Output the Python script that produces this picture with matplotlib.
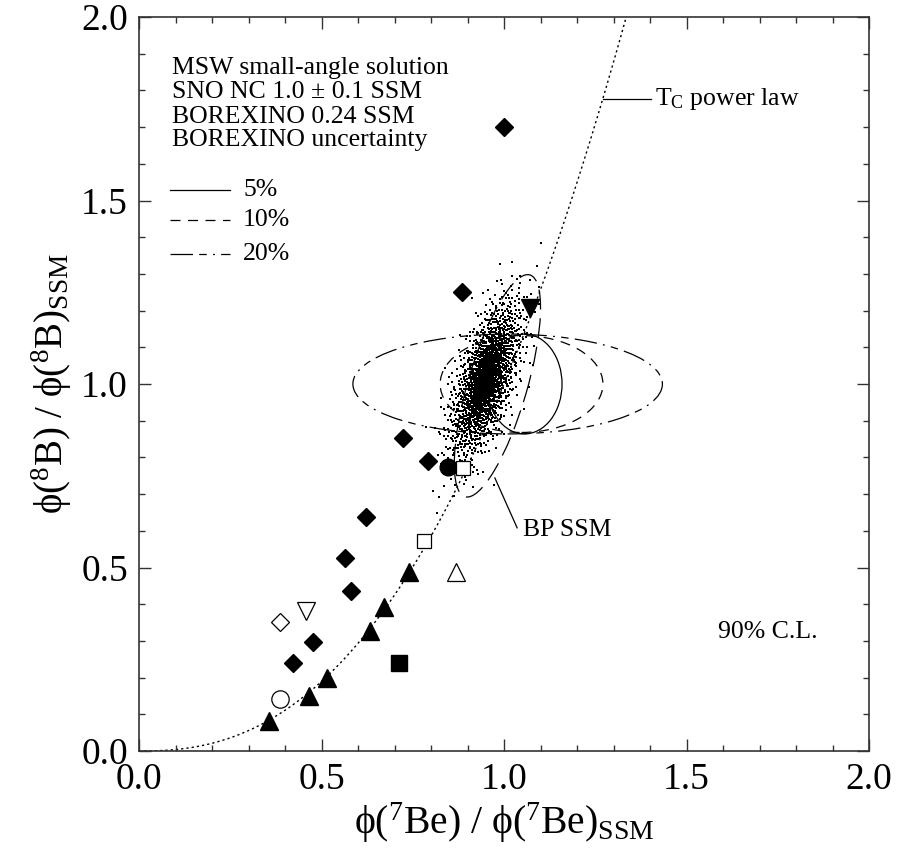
import numpy as np
import matplotlib
matplotlib.use("Agg")
import matplotlib.pyplot as plt
from matplotlib.patches import Ellipse

plt.rcParams['font.family'] = ['Liberation Serif', 'DejaVu Serif']
plt.rcParams['mathtext.fontset'] = 'custom'
plt.rcParams['mathtext.rm'] = 'Liberation Serif'
plt.rcParams['mathtext.it'] = 'Liberation Serif:italic'
plt.rcParams['mathtext.default'] = 'regular'

# --- model points (x = phi(7Be)/SSM, y = phi(8B)/SSM) ---
filled_diamond_x = [1.00, 0.885, 0.723, 0.792, 0.622, 0.564, 0.581, 0.477, 0.422]
filled_diamond_y = [1.70, 1.252, 0.854, 0.789, 0.637, 0.527, 0.436, 0.297, 0.240]
filled_triangle_x = [0.356, 0.466, 0.515, 0.633, 0.671, 0.740]
filled_triangle_y = [0.082, 0.150, 0.200, 0.327, 0.392, 0.488]
filled_down_x = [1.071]
filled_down_y = [1.208]
filled_circle_x = [0.847]
filled_circle_y = [0.773]
filled_square_x = [0.712]
filled_square_y = [0.241]
open_square_x = [0.888, 0.781]
open_square_y = [0.770, 0.571]
open_diamond_x = [0.386]
open_diamond_y = [0.351]
open_down_x = [0.458]
open_down_y = [0.381]
open_up_x = [0.868]
open_up_y = [0.488]
open_circle_x = [0.386]
open_circle_y = [0.141]

# T_C power law: phi(8B) ~ phi(7Be)^n
power_law_exponent = 2.4

# 90% C.L. allowed regions: (center x, center y, half-width, half-height)
borexino_5 = (1.056, 1.0, 0.103, 0.136)
borexino_10 = (1.048, 1.0, 0.223, 0.132)
borexino_20 = (1.010, 1.0, 0.424, 0.136)
# BP SSM contour: center, semi-major, semi-minor, tilt (deg)
bp_ssm_contour = (0.982, 0.995, 0.315, 0.081, 73.6)

# Monte Carlo SSM cloud: center, major/minor spread, tilt (deg), counts
cloud_center = (0.950, 1.012)
cloud_sigma_major = 0.11
cloud_sigma_minor = 0.036
cloud_core_sigma_major = 0.036
cloud_core_sigma_minor = 0.013
cloud_angle = 72.0
cloud_n_halo = 1700
cloud_n_core = 650


def halton(k, base):
    """Van der Corput radical inverse of the integers k in the given base."""
    k = np.asarray(k, dtype=np.int64).copy()
    out = np.zeros(k.shape)
    f = 1.0 / base
    while np.any(k > 0):
        out += f * (k % base)
        k //= base
        f /= base
    return out


def quasi_gaussian_cloud(n, bases, s_major, s_minor, angle_deg, center):
    """Deterministic Halton sample mapped to a tilted 2-D Gaussian."""
    k = np.arange(1, n + 1)
    u1 = np.clip(halton(k, bases[0]), 1e-4, 1.0)
    u2 = halton(k, bases[1])
    r = np.sqrt(-2.0 * np.log(u1))
    t = 2 * np.pi * u2
    a = r * np.cos(t) * s_major
    b = r * np.sin(t) * s_minor
    th = np.deg2rad(angle_deg)
    x = center[0] + a * np.cos(th) - b * np.sin(th)
    y = center[1] + a * np.sin(th) + b * np.cos(th)
    return x, y


fig = plt.figure(figsize=(9.02, 8.59), dpi=100)
ax = fig.add_axes([139 / 902, 1 - 751 / 859, (869 - 139) / 902, (751 - 17) / 859])

ax.set_xlim(0, 2)
ax.set_ylim(0, 2)

# Monte Carlo cloud
hx, hy = quasi_gaussian_cloud(cloud_n_halo, (2, 3), cloud_sigma_major, cloud_sigma_minor,
                              cloud_angle, cloud_center)
cx, cy = quasi_gaussian_cloud(cloud_n_core, (5, 7), cloud_core_sigma_major,
                              cloud_core_sigma_minor, cloud_angle, cloud_center)
ax.scatter(np.r_[hx, cx], np.r_[hy, cy], s=2.6, c='k', marker='s', linewidths=0, zorder=2)

# power law curve
xp = np.linspace(0, 2.0 ** (1 / power_law_exponent), 400)
ax.plot(xp, xp ** power_law_exponent, color='k', lw=1.0, linestyle=(0, (1.6, 2.2)), zorder=1)

# BOREXINO allowed regions
dash_5 = '-'
dash_10 = (0, (8, 6))
dash_20 = (0, (18, 5, 6, 5, 1.5, 5))
for (cxe, cye, w, h), ls in [(borexino_5, dash_5), (borexino_10, dash_10), (borexino_20, dash_20)]:
    ax.add_patch(Ellipse((cxe, cye), 2 * w, 2 * h, fill=False, ec='k', lw=0.9,
                         linestyle=ls, zorder=3))

# BP SSM contour
bx, by, ba, bb, bang = bp_ssm_contour
ax.add_patch(Ellipse((bx, by), 2 * ba, 2 * bb, angle=bang, fill=False, ec='k', lw=0.9,
                     linestyle=(0, (16, 7)), zorder=3))

# markers
mk = dict(color='k', linestyle='none', zorder=4)
ax.plot(filled_diamond_x, filled_diamond_y, marker='D', ms=9, **mk)
ax.plot(filled_triangle_x, filled_triangle_y, marker='^', ms=13, **mk)
ax.plot(filled_down_x, filled_down_y, marker='v', ms=12.5, **mk)
ax.plot(filled_circle_x, filled_circle_y, marker='o', ms=12, **mk)
ax.plot(filled_square_x, filled_square_y, marker='s', ms=11, **mk)
om = dict(color='k', linestyle='none', mfc='white', mew=0.9, zorder=4)
ax.plot(open_square_x, open_square_y, marker='s', ms=10, **om)
ax.plot(open_diamond_x, open_diamond_y, marker='D', ms=9.5, **om)
ax.plot(open_down_x, open_down_y, marker='v', ms=12.5, **om)
ax.plot(open_up_x, open_up_y, marker='^', ms=13, **om)
ax.plot(open_circle_x, open_circle_y, marker='o', ms=12.5, **om)

# annotations
txt_size = 18.5
tc_y = 1.776
tc_x0 = tc_y ** (1 / power_law_exponent)
ax.plot([tc_x0, 1.403], [tc_y, tc_y], color='k', lw=0.9, zorder=3)
ax.text(1.414, tc_y, r'T$_{\mathregular{C}}$ power law', fontsize=txt_size, va='center', ha='left')
ax.plot([0.975, 1.036], [0.744, 0.608], color='k', lw=0.9, zorder=3)
ax.text(1.052, 0.602, 'BP SSM', fontsize=txt_size, va='center', ha='left')
ax.text(1.586, 0.325, '90% C.L.', fontsize=txt_size, va='center', ha='left')

legend_lines = ['MSW small-angle solution', 'SNO NC 1.0 \u00b1 0.1 SSM',
                'BOREXINO 0.24 SSM', 'BOREXINO uncertainty']
legend_y = [1.861, 1.796, 1.728, 1.665]
for s, yy in zip(legend_lines, legend_y):
    ax.text(0.090, yy, s, fontsize=txt_size, va='center', ha='left')
unc_labels = ['5%', '10%', '20%']
unc_y = [1.529, 1.447, 1.355]
for s, yy, ls in zip(unc_labels, unc_y, [dash_5, dash_10, dash_20]):
    ax.plot([0.085, 0.249], [yy, yy], color='k', lw=0.9, linestyle=ls)
    ax.text(0.285, yy, s, fontsize=txt_size, va='center', ha='left')

# axes styling
ax.set_xticks(np.arange(0, 2.01, 0.5))
ax.set_yticks(np.arange(0, 2.01, 0.5))
ax.set_xticks(np.arange(0, 2.01, 0.1), minor=True)
ax.set_yticks(np.arange(0, 2.01, 0.1), minor=True)
ax.set_xticklabels(['0.0', '0.5', '1.0', '1.5', '2.0'])
ax.set_yticklabels(['0.0', '0.5', '1.0', '1.5', '2.0'])
ax.tick_params(which='both', direction='in', top=True, right=True, colors='#333333',
               labelcolor='k', labelsize=27)
ax.tick_params(which='major', length=8.5, width=1.0, pad=8)
ax.tick_params(which='minor', length=4.5, width=1.0)
for sp in ax.spines.values():
    sp.set_linewidth(1.2)
    sp.set_color('#333333')

ax.set_xlabel('\u03d5($^{7}$Be) / \u03d5($^{7}$Be)$_{\\mathregular{SSM}}$', fontsize=28.5, labelpad=3)
ax.set_ylabel('\u03d5($^{8}$B) / \u03d5($^{8}$B)$_{\\mathregular{SSM}}$', fontsize=28, labelpad=5)

fig.savefig('out.png', dpi=100)
